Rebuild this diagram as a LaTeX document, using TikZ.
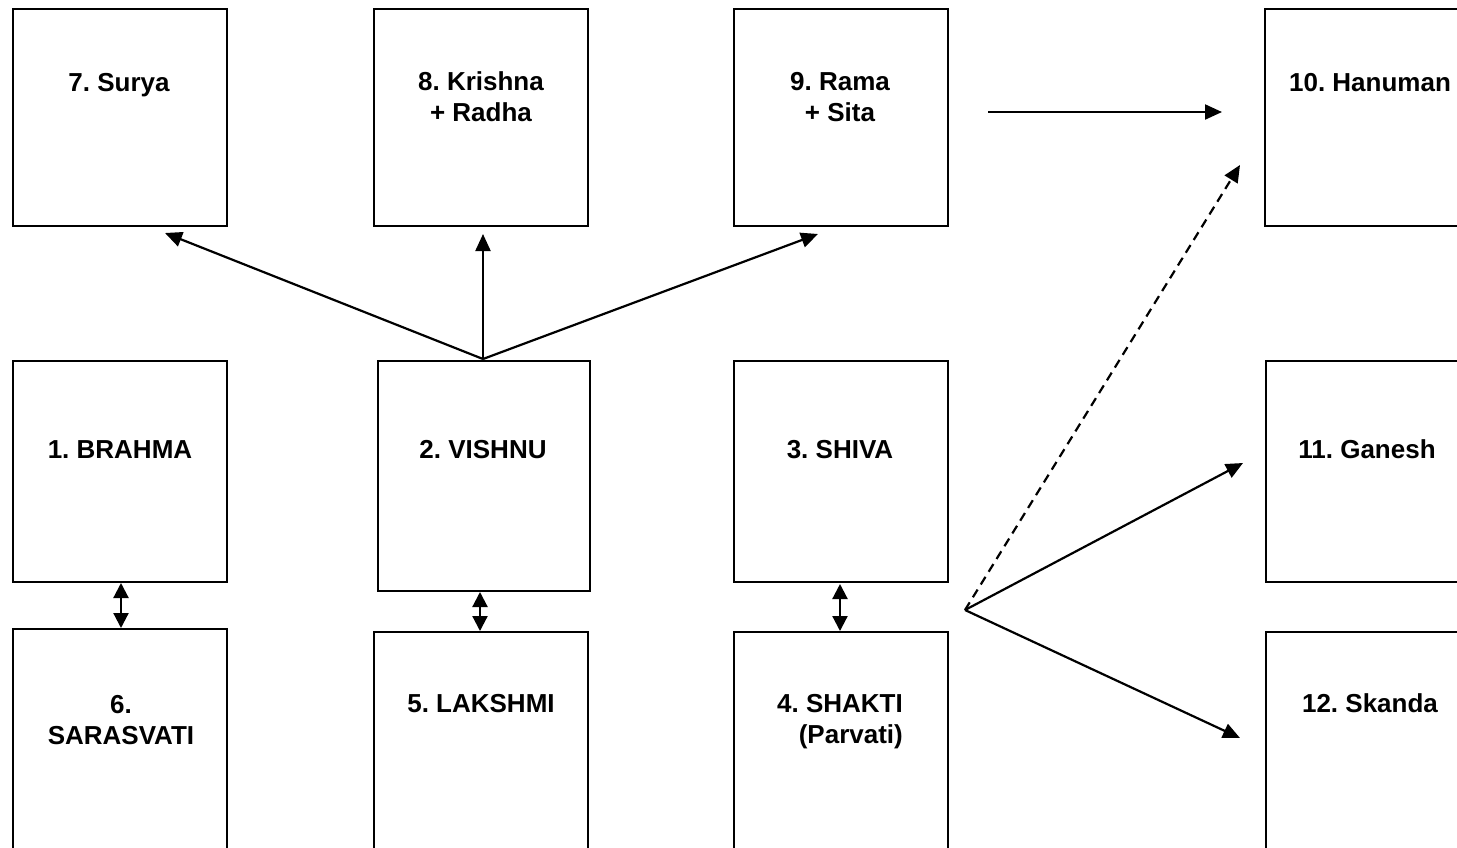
\documentclass[tikz,border=0pt]{standalone}
\usepackage{fontspec}
\setmainfont{Liberation Sans}
\usetikzlibrary{arrows.meta}
\frenchspacing
\tikzset{
  godbox/.style={draw=black, line width=2.2pt, rectangle, inner sep=0pt, outer sep=0pt, minimum width=214pt},
  godtext/.style={font=\bfseries\fontsize{26}{31}\selectfont, align=center, anchor=base, inner sep=0pt},
  conn/.style={line width=2.2pt, -{Triangle[length=17pt,width=15pt]}},
  dconn/.style={line width=2.2pt, {Triangle[length=15pt,width=15pt]}-{Triangle[length=15pt,width=15pt]}},
}
\begin{document}
\begin{tikzpicture}[x=1pt,y=-1pt]
\clip (0,0) rectangle (1457,847);
\fill[white] (0,0) rectangle (1457,847);
% boxes
\node[godbox, minimum height=217pt] (n7) at (120,117.5) {};
\node[godbox, minimum height=217pt] (n8) at (481,117.5) {};
\node[godbox, minimum height=217pt] (n9) at (841,117.5) {};
\node[godbox, minimum height=217pt] (n10) at (1372,117.5) {};
\node[godbox, minimum height=221pt] (n1) at (120,471.5) {};
\node[godbox, minimum height=230pt, minimum width=212pt] (n2) at (484,476) {};
\node[godbox, minimum height=221pt] (n3) at (841,471.5) {};
\node[godbox, minimum height=221pt] (n11) at (1373,471.5) {};
\node[godbox, minimum height=221pt] (n6) at (120,739.5) {};
\node[godbox, minimum height=218pt] (n5) at (481,741) {};
\node[godbox, minimum height=218pt] (n4) at (841,741) {};
\node[godbox, minimum height=218pt] (n12) at (1373,741) {};
% labels (base = baseline of last line)
\node[godtext] (l7) at (119,91) {7. Surya};
\node[godtext] (l8) at (481,121) {8. Krishna\\+ Radha};
\node[godtext] (l9) at (840,121) {9. Rama\\+ Sita};
\node[godtext] (l10) at (1370,91) {10. Hanuman};
\node[godtext] (l1) at (120,458) {1. BRAHMA};
\node[godtext] (l2) at (483,458) {2. VISHNU};
\node[godtext] (l3) at (840,458) {3. SHIVA};
\node[godtext] (l11) at (1367,458) {11. Ganesh};
\node[godtext] (l6) at (121,744) {6.\\SARASVATI};
\node[godtext] (l5) at (481,712) {5. LAKSHMI};
\node[godtext, align=right] (l4) at (840,743) {4. SHAKTI\\(Parvati)};
\node[godtext] (l12) at (1370,712) {12. Skanda};
% free ends
\coordinate (v) at (483,359);
\coordinate (t7) at (165,233);
\coordinate (t8) at (483,234);
\coordinate (t9) at (818,234);
\coordinate (s9) at (988,112);
\coordinate (t10) at (1222,112);
\coordinate (fan) at (965,610);
\coordinate (t10b) at (1240,165);
\coordinate (t11) at (1243,463);
\coordinate (t12) at (1240,738);
\coordinate (a1) at (121,583);
\coordinate (b1) at (121,628);
\coordinate (a2) at (480,592);
\coordinate (b2) at (480,631);
\coordinate (a3) at (840,584);
\coordinate (b3) at (840,631);
% connectors
\draw[conn] (v) -- (t7);
\draw[conn] (v) -- (t8);
\draw[conn] (v) -- (t9);
\draw[conn] (s9) -- (t10);
\draw[conn, dash pattern=on 9pt off 6pt] (fan) -- (t10b);
\draw[conn] (fan) -- (t11);
\draw[conn] (fan) -- (t12);
\draw[dconn] (a1) -- (b1);
\draw[dconn] (a2) -- (b2);
\draw[dconn] (a3) -- (b3);
\end{tikzpicture}
\end{document}
